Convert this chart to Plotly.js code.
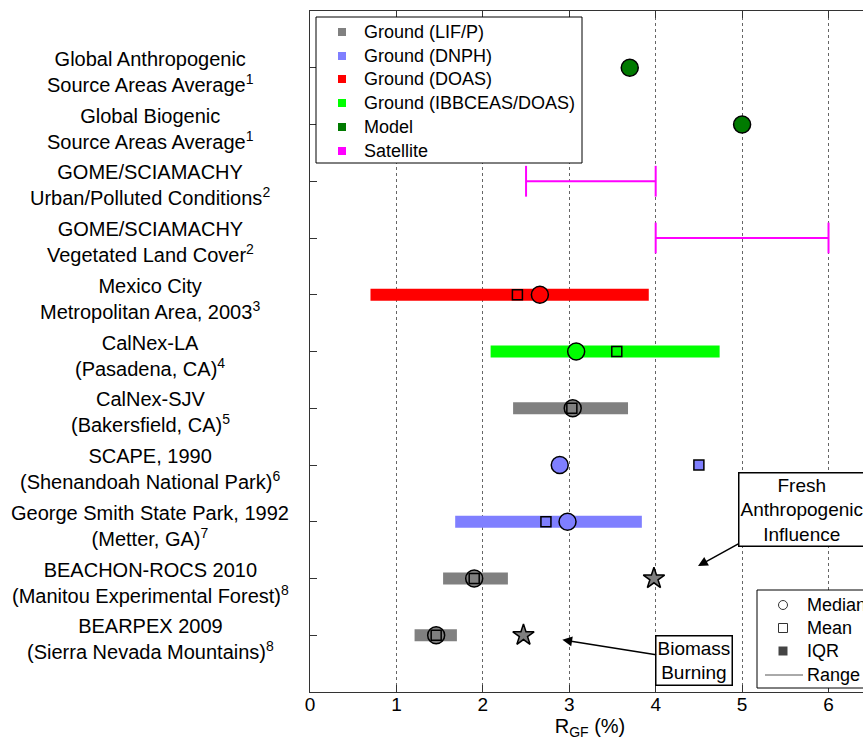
<!DOCTYPE html>
<html>
<head>
<meta charset="utf-8">
<script src="https://cdn.plot.ly/plotly-3.0.1.min.js"></script>
<style>
html,body{margin:0;padding:0;overflow:hidden;background:#fff;}
#chart{width:900px;height:746px;}
</style>
</head>
<body>
<div id="chart"></div>
<script>
// ---- Data ----
const rowLabels = [
  "Global Anthropogenic<br>Source Areas Average<sup>1</sup>",
  "Global Biogenic<br>Source Areas Average<sup>1</sup>",
  "GOME/SCIAMACHY<br>Urban/Polluted Conditions<sup>2</sup>",
  "GOME/SCIAMACHY<br>Vegetated Land Cover<sup>2</sup>",
  "Mexico City<br>Metropolitan Area, 2003<sup>3</sup>",
  "CalNex-LA<br>(Pasadena, CA)<sup>4</sup>",
  "CalNex-SJV<br>(Bakersfield, CA)<sup>5</sup>",
  "SCAPE, 1990<br>(Shenandoah National Park)<sup>6</sup>",
  "George Smith State Park, 1992<br>(Metter, GA)<sup>7</sup>",
  "BEACHON-ROCS 2010<br>(Manitou Experimental Forest)<sup>8</sup>",
  "BEARPEX 2009<br>(Sierra Nevada Mountains)<sup>8</sup>"
];
const rowIndex = [1,2,3,4,5,6,7,8,9,10,11];
const xTicks = [0,1,2,3,4,5,6];

// Model
const modelRows = [1,2];
const modelMedian = [3.70, 5.00];
// Satellite ranges
const satRows = [3,4];
const satLow = [2.50, 4.00];
const satHigh = [4.00, 6.00];
// Ground (DOAS)
const doasRows = [5];
const doasIqrLow = [0.70];
const doasIqrHigh = [3.92];
const doasMedian = [2.66];
const doasMean = [2.40];
// Ground (IBBCEAS/DOAS)
const ibbRows = [6];
const ibbIqrLow = [2.09];
const ibbIqrHigh = [4.74];
const ibbMedian = [3.08];
const ibbMean = [3.55];
// Ground (LIF/P)
const lifRows = [7,10,11];
const lifIqrLow = [2.35,1.54,1.21];
const lifIqrHigh = [3.68,2.29,1.70];
const lifMedian = [3.04,1.90,1.46];
const lifMean = [3.03,1.90,1.46];
// Ground (DNPH)
const dnphIqrRows = [9];
const dnphIqrLow = [1.68];
const dnphIqrHigh = [3.84];
const dnphMedianRows = [8,9];
const dnphMedian = [2.89,2.98];
const dnphMeanRows = [8,9];
const dnphMean = [4.50,2.73];
const dnphMeanFilled = [true,false];
// Special cases (stars)
const starRows = [10,11];
const starValues = [3.98,2.47];

// Legend texts
const legend1Names = ['Ground (LIF/P)','Ground (DNPH)','Ground (DOAS)','Ground (IBBCEAS/DOAS)','Model','Satellite'];
const legend2Names = ['Median','Mean','IQR','Range'];

// ---- Styles ----
const FONT = '"Liberation Sans", Arial, Helvetica, sans-serif';
const C = {lif:'#808080', dnph:'#7f7fff', doas:'#ff0000', ibb:'#00ff00', model:'#007a00', sat:'#ff00ff'};
const legend1Colors = [C.lif, C.dnph, C.doas, C.ibb, C.model, C.sat];

// plot-area geometry (pixels) for paper-coordinate helpers
const PL = 310, PW = 560, PT = 11, PH = 681;
const px = v => (v - PL) / PW;
const py = v => (PT + PH - v) / PH;

function iqrBar(rows, lo, hi, color){
  return {type:'bar', orientation:'h', y:rows, base:lo, x:hi.map((h,i)=>h-lo[i]),
    width:0.21, marker:{color:color, line:{width:0}}, showlegend:false, hoverinfo:'skip'};
}
function medianPts(rows, vals, color){
  return {type:'scatter', mode:'markers', x:vals, y:rows, showlegend:false,
    marker:{symbol:'circle', size:17, color:color, line:{color:'#000', width:1.5}}};
}
function meanPts(rows, vals, fills){
  return {type:'scatter', mode:'markers', x:vals, y:rows, showlegend:false,
    marker:{symbol:'square', size:10, color:fills, line:{color:'#000', width:1.5}}};
}

const traces = [];
traces.push(iqrBar(doasRows, doasIqrLow, doasIqrHigh, C.doas));
traces.push(iqrBar(ibbRows, ibbIqrLow, ibbIqrHigh, C.ibb));
traces.push(iqrBar(lifRows, lifIqrLow, lifIqrHigh, C.lif));
traces.push(iqrBar(dnphIqrRows, dnphIqrLow, dnphIqrHigh, C.dnph));

const satX = [], satY = [];
satRows.forEach((r,i)=>{ satX.push(satLow[i], satHigh[i], null); satY.push(r, r, null); });
traces.push({type:'scatter', mode:'lines+markers', x:satX, y:satY, showlegend:false,
  line:{color:C.sat, width:2},
  marker:{symbol:'line-ns', size:22, color:C.sat, line:{color:C.sat, width:2}}});

traces.push(medianPts(modelRows, modelMedian, C.model));
traces.push(medianPts(doasRows, doasMedian, C.doas));
traces.push(medianPts(ibbRows, ibbMedian, C.ibb));
traces.push(medianPts(lifRows, lifMedian, C.lif));
traces.push(medianPts(dnphMedianRows, dnphMedian, C.dnph));

traces.push(meanPts(doasRows, doasMean, doasRows.map(()=> 'rgba(0,0,0,0)')));
traces.push(meanPts(ibbRows, ibbMean, ibbRows.map(()=> 'rgba(0,0,0,0)')));
traces.push(meanPts(lifRows, lifMean, lifRows.map(()=> 'rgba(0,0,0,0)')));
traces.push(meanPts(dnphMeanRows, dnphMean, dnphMeanFilled.map(f=> f ? C.dnph : 'rgba(0,0,0,0)')));

traces.push({type:'scatter', mode:'markers', x:starValues, y:starRows, showlegend:false,
  marker:{symbol:'star', size:16, color:C.lif, line:{color:'#000', width:1.5}}});

// ---- Annotations ----
const annotations = rowLabels.map((t,i)=>({
  text:t, xref:'paper', yref:'y', x:px(150), y:rowIndex[i], xanchor:'center', yanchor:'middle',
  align:'center', showarrow:false, yshift:-4, font:{family:FONT, size:20, color:'#000'}
}));
annotations.push({
  text:'Fresh<br>Anthropogenic<br>Influence', xref:'x', yref:'y', x:4.49, y:9.78,
  ax:104, ay:-57, showarrow:true, arrowhead:2, arrowsize:1.3, arrowwidth:1.5, arrowcolor:'#000',
  bordercolor:'#000', borderwidth:1.5, borderpad:1, bgcolor:'#fff', align:'center',
  font:{family:FONT, size:19, color:'#000'}
});
annotations.push({
  text:'Biomass<br>Burning', xref:'x', yref:'y', x:2.92, y:11.08,
  ax:132, ay:21, showarrow:true, arrowhead:2, arrowsize:1.3, arrowwidth:1.5, arrowcolor:'#000',
  bordercolor:'#000', borderwidth:1.5, borderpad:1, bgcolor:'#fff', align:'center',
  font:{family:FONT, size:19, color:'#000'}
});

// ---- Hand-built legends (shapes + text) ----
const shapes = [];
// legend 1
const l1Rows = [32, 56, 79, 103, 127, 151];
shapes.push({type:'rect', xref:'paper', yref:'paper', x0:px(316), x1:px(582), y0:py(163), y1:py(17),
  line:{color:'#000', width:1}, fillcolor:'#fff', layer:'above'});
l1Rows.forEach((yy,i)=>{
  shapes.push({type:'rect', xref:'paper', yref:'paper', x0:px(338), x1:px(346), y0:py(yy+4), y1:py(yy-4),
    line:{width:0}, fillcolor:legend1Colors[i], layer:'above'});
  annotations.push({text:legend1Names[i], xref:'paper', yref:'paper', x:px(362), y:py(yy),
    xanchor:'left', yanchor:'middle', showarrow:false, font:{family:FONT, size:18, color:'#000'}});
});
// legend 2
const l2Rows = [605, 628, 651, 675];
shapes.push({type:'rect', xref:'paper', yref:'paper', x0:px(757), x1:px(885), y0:py(688), y1:py(590),
  line:{color:'#000', width:1}, fillcolor:'#fff', layer:'above'});
shapes.push({type:'circle', xref:'paper', yref:'paper', x0:px(778.5), x1:px(787.5), y0:py(l2Rows[0]+4.5), y1:py(l2Rows[0]-4.5),
  line:{color:'#333', width:1}, fillcolor:'rgba(0,0,0,0)', layer:'above'});
shapes.push({type:'rect', xref:'paper', yref:'paper', x0:px(778.5), x1:px(787.5), y0:py(l2Rows[1]+4.5), y1:py(l2Rows[1]-4.5),
  line:{color:'#333', width:1}, fillcolor:'rgba(0,0,0,0)', layer:'above'});
shapes.push({type:'rect', xref:'paper', yref:'paper', x0:px(778.5), x1:px(787.5), y0:py(l2Rows[2]+4.5), y1:py(l2Rows[2]-4.5),
  line:{width:0}, fillcolor:'#444', layer:'above'});
shapes.push({type:'line', xref:'paper', yref:'paper', x0:px(765), x1:px(803), y0:py(l2Rows[3]), y1:py(l2Rows[3]),
  line:{color:'#555', width:1}, layer:'above'});
legend2Names.forEach((n,i)=>{
  annotations.push({text:n, xref:'paper', yref:'paper', x:px(805), y:py(l2Rows[i]),
    xanchor:'left', yanchor:'middle', showarrow:false, font:{family:FONT, size:18, color:'#000'}});
});

const layout = {
  width:900, height:746,
  margin:{l:PL, r:900-PL-PW, t:PT, b:746-PT-PH, autoexpand:false},
  paper_bgcolor:'#fff', plot_bgcolor:'#fff',
  font:{family:FONT, size:19, color:'#000'},
  barmode:'overlay',
  showlegend:false,
  xaxis:{range:[0,6.48], tickvals:xTicks, ticktext:xTicks.map(String), ticks:'inside', ticklen:7,
    tickcolor:'#333', showline:true, linecolor:'#333', linewidth:1, mirror:'ticks',
    showgrid:true, gridcolor:'#666', griddash:'dot', gridwidth:1, zeroline:false,
    ticklabelstandoff:-5,
    tickfont:{family:FONT, size:19, color:'#000'},
    title:{text:'R<sub>GF</sub> (%)', font:{family:FONT, size:20, color:'#000'}, standoff:0},
    fixedrange:true},
  yaxis:{range:[12,0], tickvals:rowIndex, showticklabels:false, ticks:'inside', ticklen:7,
    tickcolor:'#333', showline:true, linecolor:'#333', linewidth:1, mirror:'ticks',
    showgrid:false, zeroline:false, fixedrange:true},
  shapes:shapes,
  annotations:annotations
};

Plotly.newPlot('chart', traces, layout, {staticPlot:true, displayModeBar:false});
</script>
</body>
</html>
